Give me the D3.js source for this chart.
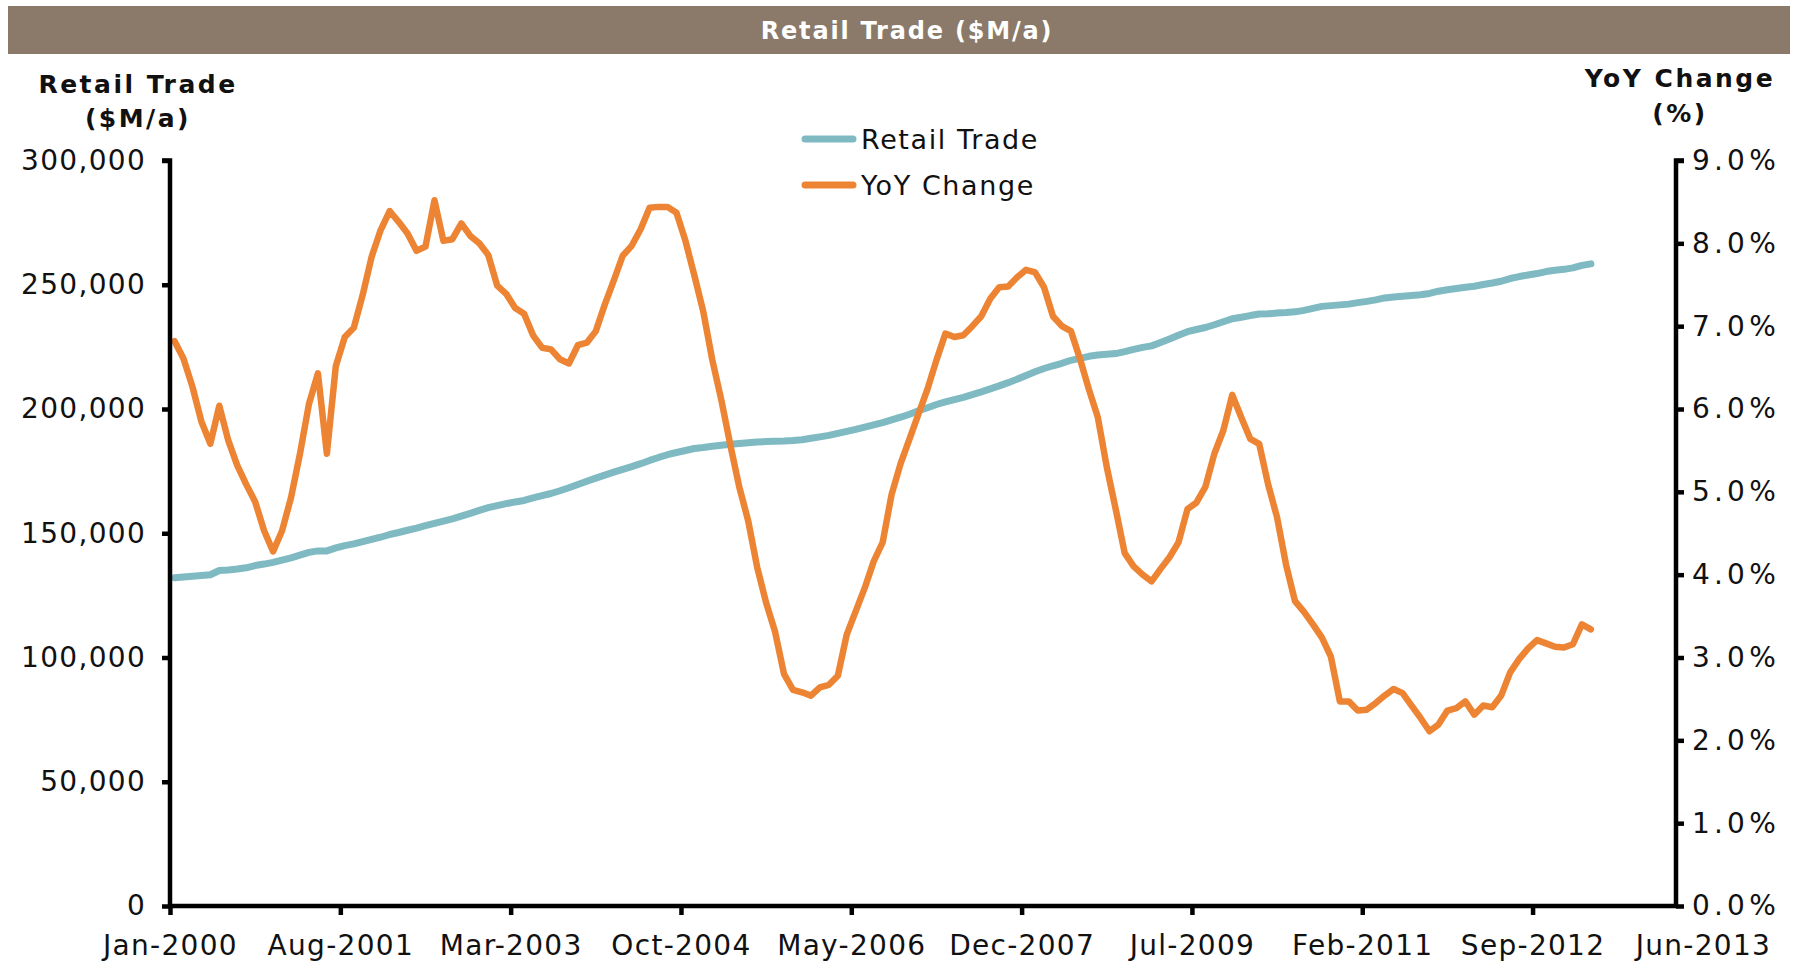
<!DOCTYPE html>
<html>
<head>
<meta charset="utf-8">
<script src="https://cdn.jsdelivr.net/npm/d3@7"></script>
<style>
  body { margin: 0; background: #fff; }
  svg { display: block; font-family: "DejaVu Sans", Verdana, sans-serif; }
  .axis path, .axis line { stroke: #000; }
  .axis text { fill: #111; }
</style>
</head>
<body>
<script>
// monthly series, Jan-2000 .. Mar-2013
const retailTrade = [
  132100,132400,132700,133000,133300,135000,135200,135600,136100,137000,137600,138300,
  139200,140100,141200,142300,142900,142900,144100,145000,145700,146600,147500,148400,
  149500,150300,151200,152100,153100,154000,154900,155800,156900,158000,159200,160300,
  161100,161900,162600,163200,164200,165100,166000,167100,168300,169600,170900,172200,
  173400,174600,175700,176800,178000,179300,180500,181600,182500,183300,184100,184500,
  185000,185400,185800,186100,186400,186700,186900,187000,187100,187300,187600,188200,
  188800,189400,190200,191000,191800,192700,193600,194500,195600,196700,197900,199300,
  200500,201800,202900,203800,204700,205800,206900,208100,209300,210600,212000,213500,
  215000,216300,217400,218400,219600,220400,221200,221700,222000,222300,223100,224000,
  224800,225400,226800,228200,229700,231100,232000,232800,233900,235100,236300,236900,
  237600,238200,238300,238600,238800,239100,239700,240500,241300,241600,241900,242200,
  242800,243300,243900,244700,245100,245400,245700,246000,246500,247400,248000,248500,
  249000,249400,250100,250700,251400,252500,253300,253900,254500,255300,255800,256200,
  256800,257800,258400
];
const yoyChange = [
  6.82,6.61,6.27,5.85,5.58,6.04,5.62,5.32,5.09,4.88,4.53,4.28,
  4.53,4.93,5.46,6.06,6.43,5.46,6.52,6.87,6.98,7.38,7.84,8.16,
  8.39,8.26,8.12,7.91,7.96,8.52,8.03,8.05,8.24,8.09,8.00,7.86,
  7.49,7.39,7.22,7.15,6.89,6.74,6.72,6.60,6.55,6.77,6.80,6.94,
  7.26,7.55,7.85,7.97,8.17,8.43,8.44,8.44,8.37,8.03,7.61,7.17,
  6.59,6.11,5.57,5.06,4.65,4.09,3.66,3.31,2.80,2.61,2.58,2.54,
  2.64,2.67,2.78,3.28,3.56,3.84,4.16,4.39,4.97,5.34,5.64,5.94,
  6.24,6.59,6.91,6.87,6.89,7.00,7.12,7.33,7.47,7.48,7.59,7.68,
  7.65,7.47,7.12,7.00,6.94,6.61,6.24,5.90,5.30,4.79,4.26,4.10,
  4.00,3.92,4.07,4.21,4.39,4.79,4.87,5.06,5.46,5.74,6.17,5.90,
  5.64,5.58,5.09,4.69,4.12,3.68,3.55,3.40,3.24,3.01,2.47,2.47,
  2.36,2.37,2.45,2.54,2.62,2.57,2.42,2.27,2.11,2.19,2.36,2.39,
  2.47,2.31,2.42,2.40,2.54,2.82,2.98,3.11,3.21,3.17,3.13,3.12,
  3.16,3.40,3.34
];
const xTickMonths = [0, 19, 38, 57, 76, 95, 114, 133, 152, 171];
const xTickLabels = ["Jan-2000","Aug-2001","Mar-2003","Oct-2004","May-2006","Dec-2007","Jul-2009","Feb-2011","Sep-2012","Jun-2013"];
const leftTicks = [0, 50000, 100000, 150000, 200000, 250000, 300000];
const rightTicks = [0, 1, 2, 3, 4, 5, 6, 7, 8, 9];
const seriesNames = ["Retail Trade", "YoY Change"];
const seriesColors = ["#7fbac3", "#ed8434"];

const W = 1798, H = 962;
const pLeft = 170, pRight = 1676, pTop = 160.5, pBottom = 906;

const svg = d3.select("body").append("svg").attr("width", W).attr("height", H);

// title bar
svg.append("rect").attr("x", 8).attr("y", 6).attr("width", 1782).attr("height", 48).attr("fill", "#8b7969");
svg.append("text").attr("x", 907).attr("y", 39).attr("text-anchor", "middle")
  .attr("fill", "#fff").attr("font-weight", "bold").attr("font-size", 24).attr("letter-spacing", 1.8)
  .text("Retail Trade ($M/a)");

const x = d3.scaleLinear().domain([0, 168]).range([pLeft, pRight]);
const yL = d3.scaleLinear().domain([0, 300000]).range([pBottom, pTop]);
const yR = d3.scaleLinear().domain([0, 9]).range([pBottom, pTop]);

// axis titles
const lt = svg.append("text").attr("text-anchor", "middle").attr("font-weight", "bold").attr("font-size", 25)
  .attr("letter-spacing", 2.5).attr("fill", "#111");
lt.append("tspan").attr("x", 138).attr("y", 93).text("Retail Trade");
lt.append("tspan").attr("x", 138).attr("y", 127).text("($M/a)");
const rt = svg.append("text").attr("text-anchor", "middle").attr("font-weight", "bold").attr("font-size", 25)
  .attr("letter-spacing", 2.5).attr("fill", "#111");
rt.append("tspan").attr("x", 1680).attr("y", 87).text("YoY Change");
rt.append("tspan").attr("x", 1680).attr("y", 122).text("(%)");

// lines
const lineL = d3.line().x((d, i) => x(i + 0.5)).y(d => yL(d));
const lineR = d3.line().x((d, i) => x(i + 0.5)).y(d => yR(d));
svg.append("path").datum(retailTrade).attr("d", lineL).attr("fill", "none")
  .attr("stroke", seriesColors[0]).attr("stroke-width", 7).attr("stroke-linejoin", "round").attr("stroke-linecap", "round");
svg.append("path").datum(yoyChange).attr("d", lineR).attr("fill", "none")
  .attr("stroke", seriesColors[1]).attr("stroke-width", 6.5).attr("stroke-linejoin", "round").attr("stroke-linecap", "round");

// axes
const gL = svg.append("g").attr("class", "axis").attr("transform", `translate(${pLeft},0)`)
  .call(d3.axisLeft(yL).tickValues(leftTicks).tickFormat(d3.format(",")).tickSize(8).tickPadding(16));
const gR = svg.append("g").attr("class", "axis").attr("transform", `translate(${pRight},0)`)
  .call(d3.axisRight(yR).tickValues(rightTicks).tickFormat(d => d.toFixed(1) + "%").tickSize(8).tickPadding(8));
const gX = svg.append("g").attr("class", "axis").attr("transform", `translate(0,${pBottom})`)
  .call(d3.axisBottom(x).tickValues(xTickMonths).tickFormat((d, i) => xTickLabels[i]).tickSize(9).tickPadding(20));

[gL, gR, gX].forEach(g => {
  g.select(".domain").attr("stroke-width", 4.5);
  g.selectAll(".tick line").attr("stroke-width", 4.5);
  g.selectAll("text").attr("font-size", 28).attr("letter-spacing", 1.3)
    .attr("font-family", "DejaVu Sans, Verdana, sans-serif");
});
gR.selectAll("text").attr("letter-spacing", 4.2);
gL.select(".domain").attr("d", `M-8,${pTop}H0V${pBottom + 2}`);
gR.select(".domain").attr("d", `M8,${pTop}H0V${pBottom + 2}`);
gX.select(".domain").attr("d", `M${pLeft - 2},0H${pRight + 2}`);
// last label sits past the axis end, without a tick mark
gX.selectAll(".tick").filter(d => d > 168).select("line").remove();
gX.selectAll("text").attr("dy", "0.71em");

// legend
const legend = svg.append("g");
seriesNames.forEach((name, i) => {
  const yy = 139 + i * 46;
  legend.append("line").attr("x1", 805).attr("x2", 853).attr("y1", yy).attr("y2", yy)
    .attr("stroke", seriesColors[i]).attr("stroke-width", 7).attr("stroke-linecap", "round");
  legend.append("text").attr("x", 861).attr("y", yy + 10).attr("font-size", 27).attr("letter-spacing", 1.6)
    .attr("fill", "#111").text(name);
});
</script>
</body>
</html>
